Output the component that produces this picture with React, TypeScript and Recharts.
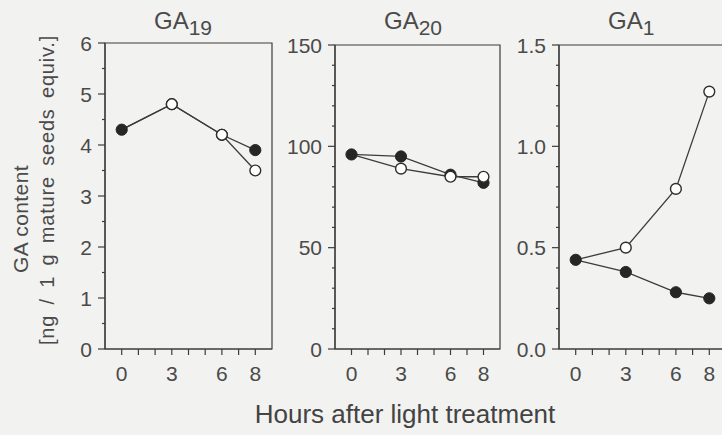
import React from 'react';
import { LineChart, Line, XAxis, YAxis, ReferenceArea } from 'recharts';

// ---- data ----
const hours = [0, 3, 6, 8];
const xTicks = [0, 1, 2, 3, 4, 5, 6, 7, 8];
const xLabels = ['0', '3', '6', '8'];

const ga19Dark = [4.3, 4.8, 4.2, 3.9];
const ga19Light = [4.3, 4.8, 4.2, 3.5];
const ga20Dark = [96, 95, 86, 82];
const ga20Light = [96, 89, 85, 85];
const ga1Dark = [0.44, 0.38, 0.28, 0.25];
const ga1Light = [0.44, 0.5, 0.79, 1.27];

const ga19Ticks = [0, 0.5, 1, 1.5, 2, 2.5, 3, 3.5, 4, 4.5, 5, 5.5, 6];
const ga19Labels = ['0', '1', '2', '3', '4', '5', '6'];
const ga20Ticks = [0, 10, 20, 30, 40, 50, 60, 70, 80, 90, 100, 110, 120, 130, 140, 150];
const ga20Labels = ['0', '50', '100', '150'];
const ga1Ticks = [0, 0.1, 0.2, 0.3, 0.4, 0.5, 0.6, 0.7, 0.8, 0.9, 1.0, 1.1, 1.2, 1.3, 1.4, 1.5];
const ga1Labels = ['0.0', '0.5', '1.0', '1.5'];

// ---- layout/styles ----
const W = 722;
const H = 435;
const BG = '#f2f2f0';
const INK = '#3c3c3c';
const TXT = '#4a4a4a';
const FONT = "'Liberation Sans', Arial, Helvetica, sans-serif";
const YW = 70;
const MT = 10;
const MR = 6;
const XH = 50;
const PLOT_BOTTOM = 349;

type Panel = {
  title: string;
  sub: string;
  plotLeft: number;
  plotRight: number;
  plotTop: number;
  yMax: number;
  ticks: number[];
  labels: string[];
  dark: number[];
  light: number[];
};

const panels: Panel[] = [
  { title: 'GA', sub: '19', plotLeft: 105, plotRight: 272, plotTop: 43, yMax: 6, ticks: ga19Ticks, labels: ga19Labels, dark: ga19Dark, light: ga19Light },
  { title: 'GA', sub: '20', plotLeft: 335, plotRight: 500, plotTop: 45, yMax: 150, ticks: ga20Ticks, labels: ga20Labels, dark: ga20Dark, light: ga20Light },
  { title: 'GA', sub: '1', plotLeft: 559, plotRight: 726, plotTop: 45, yMax: 1.5, ticks: ga1Ticks, labels: ga1Labels, dark: ga1Dark, light: ga1Light },
];

const makeYTick = (labels: string[]) => (props: any) => {
  const { payload } = props;
  const v = payload.value;
  const y = payload.coordinate ?? props.y;
  const lab = labels.find((m) => Math.abs(Number(m) - v) < 1e-6);
  const major = lab !== undefined;
  return (
    <g>
      <line x1={YW - (major ? 7 : 3)} x2={YW} y1={y} y2={y} stroke={INK} strokeWidth={1.2} />
      {major && (
        <text x={YW - 13} y={y} dy="0.36em" textAnchor="end" fill={TXT} fontSize={21} fontFamily={FONT}>
          {lab}
        </text>
      )}
    </g>
  );
};

const makeXTick = (axisY: number) => (props: any) => {
  const { payload } = props;
  const x = payload.coordinate ?? props.x;
  const lab = xLabels.find((m) => Number(m) === payload.value);
  return (
    <g>
      <line x1={x} x2={x} y1={axisY} y2={axisY + 6} stroke={INK} strokeWidth={1.2} />
      {lab !== undefined && (
        <text x={x} y={axisY + 24} dy="0.36em" textAnchor="middle" fill={TXT} fontSize={21} fontFamily={FONT}>
          {lab}
        </text>
      )}
    </g>
  );
};

const FilledDot = (p: any) => (
  <circle key={`f-${p.index}`} cx={p.cx} cy={p.cy} r={5.6} fill="#262626" stroke="#262626" strokeWidth={1} />
);
const OpenDot = (p: any) =>
  p.index === 0 ? (
    <g key={`o-${p.index}`} />
  ) : (
    <circle key={`o-${p.index}`} cx={p.cx} cy={p.cy} r={5.4} fill="#ffffff" stroke="#2e2e2e" strokeWidth={1.4} />
  );

function PanelChart({ p }: { p: Panel }) {
  const plotW = p.plotRight - p.plotLeft;
  const plotH = PLOT_BOTTOM - p.plotTop;
  const width = YW + plotW + MR;
  const height = MT + plotH + XH;
  const data = hours.map((h, i) => ({ h, dark: p.dark[i], light: p.light[i] }));
  return (
    <div style={{ position: 'absolute', left: p.plotLeft - YW, top: p.plotTop - MT }}>
      <LineChart width={width} height={height} data={data} margin={{ top: MT, right: MR, bottom: 0, left: 0 }}>
        <XAxis
          dataKey="h"
          type="number"
          domain={[-1, 9]}
          ticks={xTicks}
          interval={0}
          height={XH}
          tickLine={false}
          axisLine={{ stroke: INK, strokeWidth: 1.2 }}
          tick={makeXTick(MT + plotH)}
        />
        <YAxis
          type="number"
          domain={[0, p.yMax]}
          ticks={p.ticks}
          interval={0}
          width={YW}
          tickLine={false}
          axisLine={{ stroke: INK, strokeWidth: 1.2 }}
          tick={makeYTick(p.labels)}
        />
        <ReferenceArea x1={-1} x2={9} y1={0} y2={p.yMax} fill="none" stroke={INK} strokeWidth={1.2} ifOverflow="visible" />
        <Line type="linear" dataKey="dark" stroke={INK} strokeWidth={1.3} dot={FilledDot} isAnimationActive={false} />
        <Line type="linear" dataKey="light" stroke={INK} strokeWidth={1.3} dot={OpenDot} isAnimationActive={false} />
      </LineChart>
    </div>
  );
}

export default function App() {
  return (
    <div style={{ position: 'absolute', left: 0, top: 0, width: W, height: H, overflow: 'hidden', background: BG }}>
      {panels.map((p, i) => (
        <PanelChart key={i} p={p} />
      ))}
      <svg width={W} height={H} style={{ position: 'absolute', left: 0, top: 0, pointerEvents: 'none' }}>
        {panels.map((p, i) => (
          <text key={i} x={p.plotLeft + 49} y={29} fill={TXT} fontSize={24} fontFamily={FONT}>
            {p.title}
            <tspan dy={6} fontSize={21}>
              {p.sub}
            </tspan>
          </text>
        ))}
        <text
          transform="translate(20 219) rotate(-90)"
          textAnchor="middle"
          dy="0.36em"
          fill={TXT}
          fontSize={21}
          fontFamily={FONT}
          style={{ letterSpacing: '0.4px' }}
        >
          GA content
        </text>
        <text
          transform="translate(47 190) rotate(-90)"
          textAnchor="middle"
          dy="0.36em"
          fill={TXT}
          fontSize={20}
          fontFamily={FONT}
          style={{ wordSpacing: '4px', letterSpacing: '0.8px' }}
        >
          [ng / 1 g mature seeds equiv.]
        </text>
        <text x={405} y={414} dy="0.36em" textAnchor="middle" fill="#434343" fontSize={26} fontFamily={FONT}>
          Hours after light treatment
        </text>
      </svg>
    </div>
  );
}
